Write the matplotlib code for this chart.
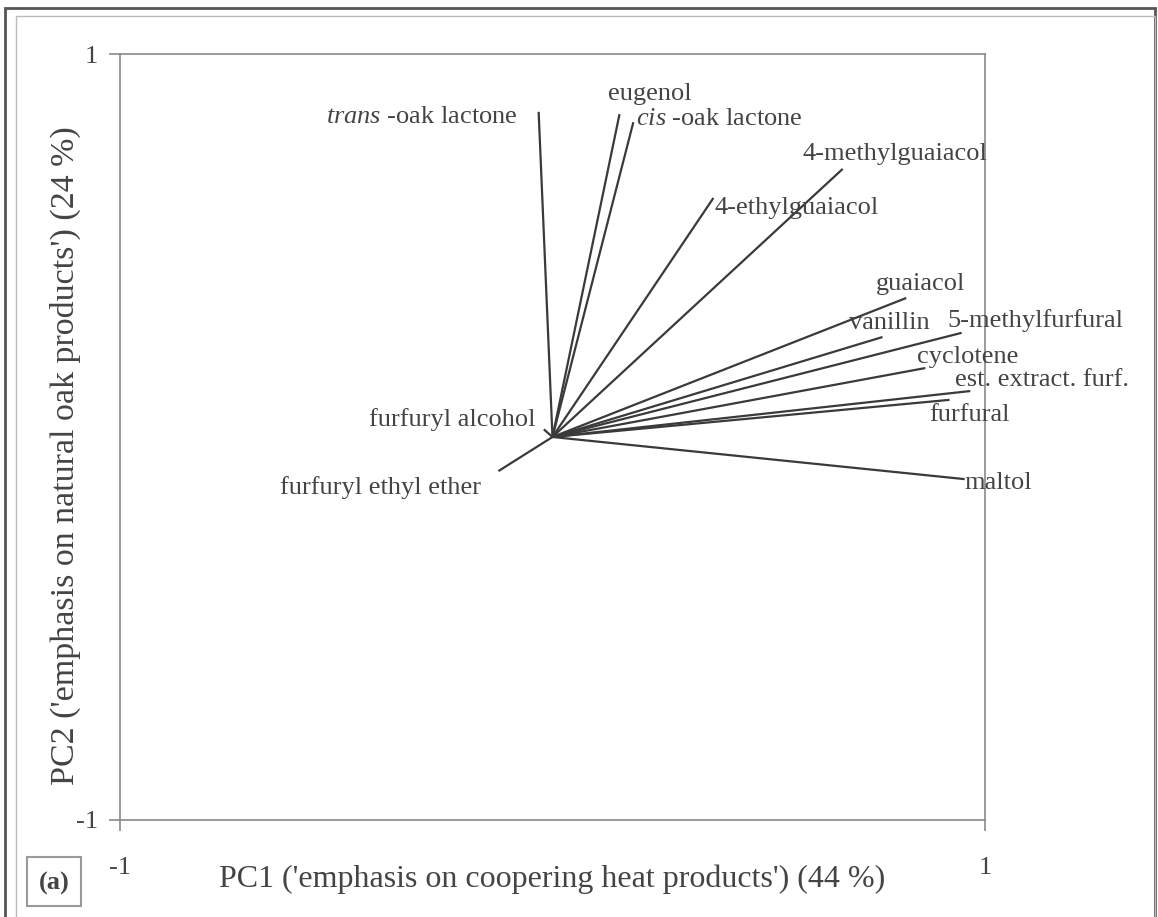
import matplotlib
matplotlib.use("Agg")
from matplotlib import pyplot as plt
from matplotlib.patches import Rectangle

plt.rcParams["font.family"] = ["Liberation Serif", "DejaVu Serif"]
plt.rcParams["mathtext.fontset"] = "custom"
plt.rcParams["mathtext.rm"] = "Liberation Serif"
plt.rcParams["mathtext.it"] = "Liberation Serif:italic"

# loadings on PC1 / PC2
compounds = [
    r"$\mathit{trans}$ -oak lactone",
    "eugenol",
    r"$\mathit{cis}$ -oak lactone",
    "4-methylguaiacol",
    "4-ethylguaiacol",
    "guaiacol",
    "vanillin",
    "5-methylfurfural",
    "cyclotene",
    "est. extract. furf.",
    "furfural",
    "maltol",
    "furfuryl alcohol",
    "furfuryl ethyl ether",
]
pc1 = [-0.032, 0.155, 0.187, 0.671, 0.372, 0.818, 0.763, 0.946, 0.862, 0.966, 0.918, 0.953, -0.02, -0.125]
pc2 = [0.849, 0.843, 0.822, 0.700, 0.624, 0.363, 0.261, 0.272, 0.180, 0.120, 0.097, -0.110, 0.02, -0.089]

# label placement relative to the arrow tip (pixels) and alignment
offsets = [(-21, -5), (30, 20), (3, 3), (-40, 15), (1, -10), (-30, 14), (-33, 14),
           (-14, 12), (-8, 11), (-15, 11), (-20, -15), (0, -4), (-8, 10), (-17, -16)]
aligns = ["right", "center", "left", "left", "left", "left", "left",
          "left", "left", "left", "left", "left", "right", "right"]

txt = "#444444"
fig = plt.figure(figsize=(11.58, 9.17), dpi=100)
ax = fig.add_axes([0.1036, 0.1058, 0.747, 0.8353])

for x, y in zip(pc1, pc2):
    ax.plot([0, x], [0, y], color="#3a3a3a", lw=1.6, solid_capstyle="butt")

for name, x, y, off, ha in zip(compounds, pc1, pc2, offsets, aligns):
    ax.annotate(name, xy=(x, y), xytext=off, textcoords="offset pixels",
                ha=ha, va="center", fontsize=19, color=txt)

ax.set_xlim(-1, 1)
ax.set_ylim(-1, 1)
ax.set_xticks([-1, 1])
ax.set_yticks([-1, 1])
ax.set_xticklabels(["-1", "1"])
ax.set_yticklabels(["-1", "1"])
for s in ax.spines.values():
    s.set_color("#8a8a8a")
    s.set_linewidth(1.2)
ax.tick_params(axis="both", colors="#8a8a8a", labelcolor=txt, labelsize=19, length=8, width=1.2)
ax.tick_params(axis="x", pad=19)
ax.tick_params(axis="y", pad=8)

ax.set_ylabel("PC2 ('emphasis on natural oak products') (24 %)", fontsize=24.5, color=txt)
ax.yaxis.set_label_coords(-0.045, 0.476)
ax.set_xlabel("PC1 ('emphasis on coopering heat products') (44 %)", fontsize=23, color=txt)
ax.xaxis.set_label_coords(0.5, -0.058)

# panel tag
fig.patches.append(Rectangle((27 / 1158, 11 / 917), 54 / 1158, 49 / 917, transform=fig.transFigure,
                             fill=False, edgecolor="#9a9a9a", lw=1.5))
fig.text(54 / 1158, 34 / 917, "(a)", ha="center", va="center", fontsize=19,
         fontweight="bold", color=txt)

# outer frame
fig.patches.append(Rectangle((5 / 1158, -0.05), 1150 / 1158, 1.05 - 8 / 917, transform=fig.transFigure,
                             fill=False, edgecolor="#555555", lw=2))
fig.patches.append(Rectangle((16 / 1158, -0.05), 1139 / 1158, 1.05 - 16 / 917, transform=fig.transFigure,
                             fill=False, edgecolor="#bbbbbb", lw=1))

fig.savefig("out.png", dpi=100)
